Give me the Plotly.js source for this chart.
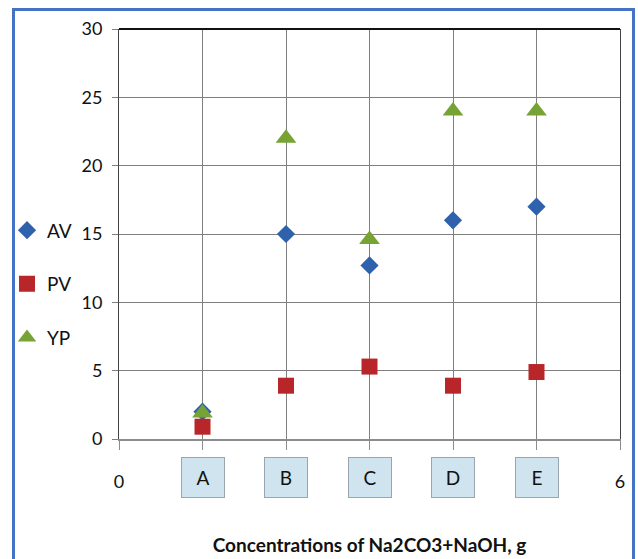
<!DOCTYPE html>
<html>
<head>
<meta charset="utf-8">
<script src="https://cdn.plot.ly/plotly-3.0.1.min.js"></script>
<style>
  html, body { margin: 0; padding: 0; background: #ffffff; overflow: hidden; }
  #frame { position: absolute; left: 12px; top: 8px; width: 623px; height: 600px;
           border: 3px solid #4472c4; box-sizing: border-box; pointer-events: none; z-index: 5; }
  #chart { position: absolute; left: 0; top: 0; width: 638px; height: 559px; }
</style>
</head>
<body>
<div id="chart"></div>
<div id="frame"></div>
<script>
// Data
const categories = ['A', 'B', 'C', 'D', 'E'];
const positions = [1, 2, 3, 4, 5];
const AV = [2.0, 15.0, 12.7, 16.0, 17.0];
const PV = [0.9, 3.9, 5.3, 3.9, 4.9];
const YP = [1.9, 22.0, 14.6, 24.0, 24.0];
const xTickVals = [0, 1, 2, 3, 4, 5, 6];
const xTickText = ['0', '', '', '', '', '', '6'];
const yTickVals = [0, 5, 10, 15, 20, 25, 30];

const FONT = 'Lato, "Open Sans", sans-serif';

const traces = [
  { name: 'AV', x: positions, y: AV, type: 'scatter', mode: 'markers', legendgroup: 'g1',
    marker: { symbol: 'diamond', size: 14, color: '#2f62ad' } },
  { name: 'PV', x: positions, y: PV, type: 'scatter', mode: 'markers', legendgroup: 'g2',
    marker: { symbol: 'square', size: 16, color: '#b8262a' } },
  { name: 'YP', x: positions, y: YP, type: 'scatter', mode: 'markers', legendgroup: 'g3',
    marker: { symbol: 'triangle-up', size: 18, color: '#76a334' } }
];

const annotations = categories.map((c, i) => ({
  text: c, x: positions[i], xref: 'x', y: -0.093, yref: 'paper',
  xanchor: 'center', yanchor: 'middle', showarrow: false,
  width: 42, height: 39, bgcolor: '#cfe4ee', bordercolor: '#9aa6ae', borderwidth: 1, borderpad: 0,
  font: { family: FONT, size: 19, color: '#111' }
}));

const layout = {
  width: 638, height: 559,
  margin: { l: 119, r: 18, t: 29, b: 120, autoexpand: false },
  paper_bgcolor: '#ffffff', plot_bgcolor: '#ffffff',
  font: { family: FONT, size: 18, color: '#111' },
  showlegend: true,
  legend: { xref: 'container', yref: 'container', x: 0.011, xanchor: 'left', y: 0.622, yanchor: 'top',
            tracegroupgap: 26, itemwidth: 30,
            font: { family: FONT, size: 19, color: '#111' }, bgcolor: 'rgba(0,0,0,0)' },
  xaxis: {
    range: [0, 6], tickvals: xTickVals, ticktext: xTickText,
    showgrid: true, gridcolor: '#7f7f7f', gridwidth: 1,
    showline: true, linecolor: '#8c8c8c', linewidth: 2,
    ticks: 'outside', ticklen: 9, tickcolor: '#8c8c8c', ticklabelstandoff: 16,
    zeroline: false, fixedrange: true, automargin: false,
    tickfont: { family: FONT, size: 18, color: '#111' },
    title: { text: '<b>Concentrations of Na2CO3+NaOH, g</b>', standoff: 48,
             font: { family: FONT, size: 19, color: '#111' } }
  },
  yaxis: {
    range: [0, 30], tickvals: yTickVals,
    showgrid: true, gridcolor: '#7f7f7f', gridwidth: 1,
    showline: true, linecolor: '#444', linewidth: 1, mirror: true,
    ticks: 'outside', ticklen: 6, tickcolor: '#7f7f7f', ticklabelstandoff: 6,
    zeroline: false, fixedrange: true, automargin: false,
    tickfont: { family: FONT, size: 18, color: '#111' }
  },
  shapes: [
    { type: 'line', xref: 'paper', yref: 'paper', x0: 0, x1: 1, y0: 1, y1: 1,
      line: { color: '#111', width: 2 } }
  ],
  annotations: annotations
};

Plotly.newPlot('chart', traces, layout, { displayModeBar: false, staticPlot: true });
</script>
</body>
</html>
